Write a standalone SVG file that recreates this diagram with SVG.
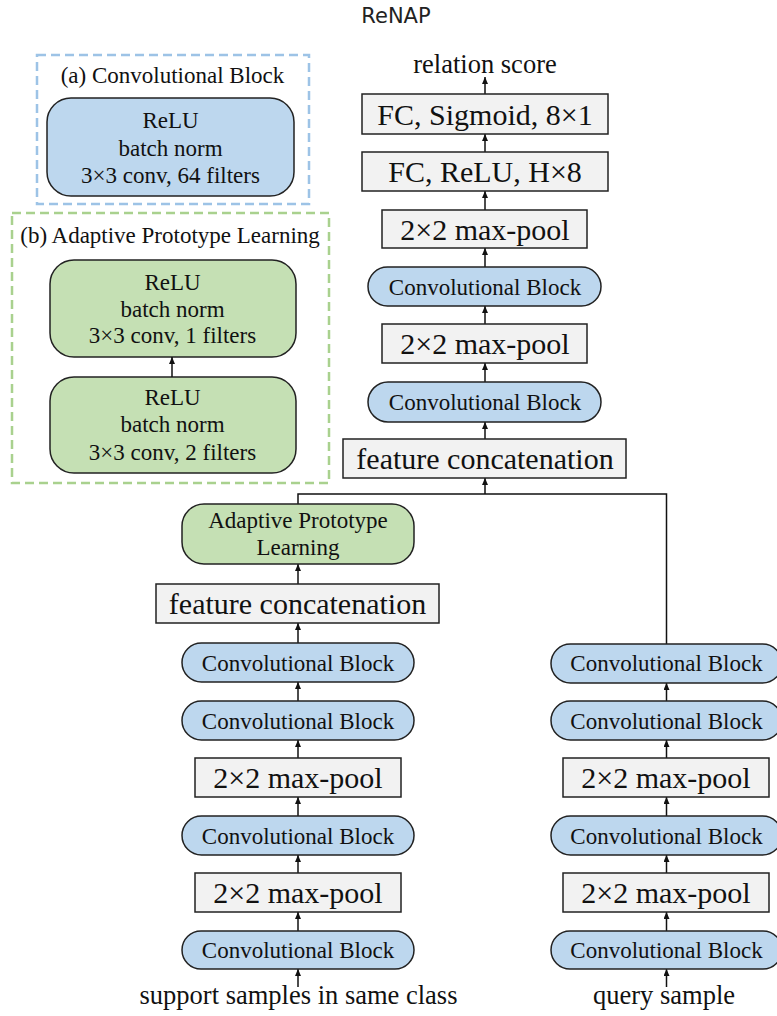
<svg xmlns="http://www.w3.org/2000/svg" width="777" height="1016" viewBox="0 0 777 1016">
<style>
.t{font-family:"Liberation Serif","Times New Roman",serif;fill:#111;text-anchor:middle}
.s23{font-size:23px}
.s30{font-size:30px}
.s26{font-size:26.5px}
.conv{fill:#bdd7ee;stroke:#222;stroke-width:1.5}
.apl{fill:#c5e0b4;stroke:#222;stroke-width:1.5}
.op{fill:#f2f2f2;stroke:#222;stroke-width:1.5}
.ln{fill:none;stroke:#111;stroke-width:1.5}
.arr{fill:none;stroke:#111;stroke-width:1.5;marker-end:url(#ah)}
</style>
<defs>
<marker id="ah" viewBox="0 0 7 6" refX="7" refY="3" markerWidth="7" markerHeight="6" markerUnits="userSpaceOnUse" orient="auto">
<path d="M0,0 L7,3 L0,6 z" fill="#111"/>
</marker>
</defs>
<rect width="777" height="1016" fill="#fff"/>
<text x="396" y="23" style="font-family:'DejaVu Sans',sans-serif;font-size:21px;fill:#222" text-anchor="middle">ReNAP</text>

<g id="legend-a">
<rect x="37" y="55" width="272" height="149" fill="none" stroke="#9dc3e6" stroke-width="2.5" stroke-dasharray="9,5"/>
<text class="t s23" x="172.5" y="83">(a) Convolutional Block</text>
<rect class="conv" x="47" y="98" width="247" height="98" rx="24"/>
<text class="t s23" x="170.5" y="128">ReLU</text>
<text class="t s23" x="170.5" y="155.5">batch norm</text>
<text class="t s23" x="170.5" y="183">3×3 conv, 64 filters</text>
</g>

<g id="legend-b">
<rect x="12" y="213" width="317" height="270" fill="none" stroke="#a9d18e" stroke-width="2.5" stroke-dasharray="9,5"/>
<text class="t s23" x="170" y="243">(b) Adaptive Prototype Learning</text>
<rect class="apl" x="50" y="260" width="246" height="97" rx="24"/>
<text class="t s23" x="172.5" y="289.5">ReLU</text>
<text class="t s23" x="172.5" y="316.7">batch norm</text>
<text class="t s23" x="172.5" y="343.3">3×3 conv, 1 filters</text>
<rect class="apl" x="50" y="377" width="246" height="96" rx="24"/>
<text class="t s23" x="172.5" y="405">ReLU</text>
<text class="t s23" x="172.5" y="432.3">batch norm</text>
<text class="t s23" x="172.5" y="460">3×3 conv, 2 filters</text>
</g>

<g id="connectors">
<path class="arr" d="M172,377 V357"/>
<path class="arr" d="M485,94 V77"/>
<path class="arr" d="M485,152 V134"/>
<path class="arr" d="M485,210 V191"/>
<path class="arr" d="M485,267 V248"/>
<path class="arr" d="M485,324 V306"/>
<path class="arr" d="M485,382 V363"/>
<path class="arr" d="M485,439 V422"/>
<path class="arr" d="M485,494 V478"/>
<path class="ln" d="M298,504 V494 H666.5 V644"/>
<path class="arr" d="M298,584 V564"/>
<path class="arr" d="M298,643 V623"/>
<path class="arr" d="M298,701 V682"/>
<path class="arr" d="M298,758 V740"/>
<path class="arr" d="M298,816 V797"/>
<path class="arr" d="M298,873 V855"/>
<path class="arr" d="M298,931 V912"/>
<path class="arr" d="M298,987 V969"/>
<path class="arr" d="M666.5,701 V683"/>
<path class="arr" d="M666.5,758 V740"/>
<path class="arr" d="M666.5,816 V797"/>
<path class="arr" d="M666.5,873 V855"/>
<path class="arr" d="M666.5,931 V912"/>
<path class="arr" d="M666.5,987 V969"/>
</g>

<text class="t s26" x="485" y="73">relation score</text>
<g id="fc-sigmoid"><rect class="op" x="362" y="94" width="246" height="40"/><text class="t s30" x="485" y="124.5">FC, Sigmoid, 8×1</text></g>
<g id="fc-relu"><rect class="op" x="362" y="152" width="246" height="39"/><text class="t s30" x="485" y="182">FC, ReLU, H×8</text></g>
<g id="r-pool2"><rect class="op" x="382" y="210" width="205" height="38"/><text class="t s30" x="485" y="239.5">2×2 max-pool</text></g>
<g id="r-conv2"><rect class="conv" x="368" y="267" width="233" height="39" rx="19.5"/><text class="t s23" x="485" y="294.5">Convolutional Block</text></g>
<g id="r-pool1"><rect class="op" x="382" y="324" width="205" height="39"/><text class="t s30" x="485" y="354">2×2 max-pool</text></g>
<g id="r-conv1"><rect class="conv" x="368" y="382" width="233" height="40" rx="20"/><text class="t s23" x="485" y="410">Convolutional Block</text></g>
<g id="r-concat"><rect class="op" x="343" y="439" width="283" height="39"/><text class="t s30" x="485" y="469">feature concatenation</text></g>

<g id="s-apl"><rect class="apl" x="182" y="504" width="232" height="60" rx="22"/><text class="t s23" x="298" y="528.3">Adaptive Prototype</text><text class="t s23" x="298" y="555">Learning</text></g>
<g id="s-concat"><rect class="op" x="156" y="584" width="283" height="39"/><text class="t s30" x="297.5" y="614">feature concatenation</text></g>
<g id="s-conv4"><rect class="conv" x="182" y="643" width="232" height="39" rx="19.5"/><text class="t s23" x="298" y="670.5">Convolutional Block</text></g>
<g id="s-conv3"><rect class="conv" x="182" y="701" width="232" height="39" rx="19.5"/><text class="t s23" x="298" y="728.5">Convolutional Block</text></g>
<g id="s-pool2"><rect class="op" x="195" y="758" width="206" height="39"/><text class="t s30" x="298" y="788">2×2 max-pool</text></g>
<g id="s-conv2"><rect class="conv" x="182" y="816" width="232" height="39" rx="19.5"/><text class="t s23" x="298" y="843.5">Convolutional Block</text></g>
<g id="s-pool1"><rect class="op" x="195" y="873" width="206" height="39"/><text class="t s30" x="298" y="903">2×2 max-pool</text></g>
<g id="s-conv1"><rect class="conv" x="182" y="931" width="232" height="38" rx="19"/><text class="t s23" x="298" y="958">Convolutional Block</text></g>
<text class="t s26" x="298.5" y="1004">support samples in same class</text>

<g id="q-conv4"><rect class="conv" x="551" y="644" width="231" height="39" rx="19.5"/><text class="t s23" x="666.5" y="671">Convolutional Block</text></g>
<g id="q-conv3"><rect class="conv" x="551" y="701" width="231" height="39" rx="19.5"/><text class="t s23" x="666.5" y="728.5">Convolutional Block</text></g>
<g id="q-pool2"><rect class="op" x="563" y="758" width="206" height="39"/><text class="t s30" x="666" y="788">2×2 max-pool</text></g>
<g id="q-conv2"><rect class="conv" x="551" y="816" width="231" height="39" rx="19.5"/><text class="t s23" x="666.5" y="843.5">Convolutional Block</text></g>
<g id="q-pool1"><rect class="op" x="563" y="873" width="206" height="39"/><text class="t s30" x="666" y="903">2×2 max-pool</text></g>
<g id="q-conv1"><rect class="conv" x="551" y="931" width="231" height="38" rx="19"/><text class="t s23" x="666.5" y="958">Convolutional Block</text></g>
<text class="t s26" x="664" y="1004">query sample</text>
</svg>
